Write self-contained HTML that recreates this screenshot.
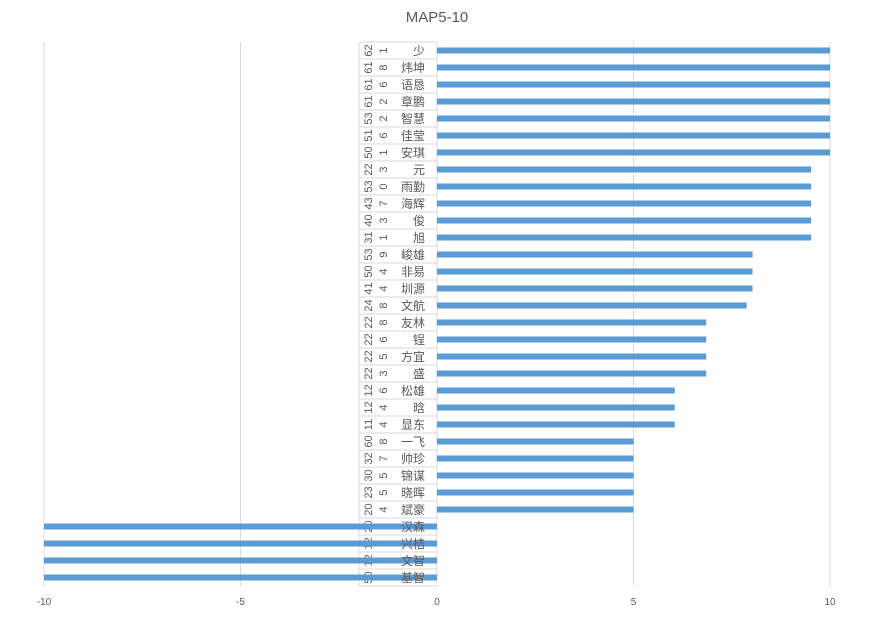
<!DOCTYPE html>
<html><head><meta charset="utf-8"><style>
body{margin:0;background:#fff;font-family:"Liberation Sans","Noto Sans CJK SC",sans-serif;}
</style></head><body>
<svg id="c" width="883" height="617" xmlns="http://www.w3.org/2000/svg"></svg>
<script>
const names=["少","炜坤","语恳","章鹏","智慧","佳莹","安琪","元","雨勤","海辉","俊","旭","峻雄","非易","圳源","文航","友林","锃","方宜","盛","松雄","晗","显东","一飞","帅珍","锦谋","晓晖","斌豪","汉森","兴桔","文智","基智"];
const codeA=["62","61","61","61","53","51","50","22","53","43","40","31","53","50","41","24","22","22","22","22","12","12","11","60","32","30","23","20","20","12","12","50"];
const codeB=["1","8","6","2","2","6","1","3","0","7","3","1","9","4","4","8","8","6","5","3","6","4","4","8","7","5","5","4","5","3","5","5"];
const values=[10,10,10,10,10,10,10,9.52,9.52,9.52,9.52,9.52,8.03,8.03,8.03,7.88,6.85,6.85,6.85,6.85,6.05,6.05,6.05,5,5,5,5,5,-10,-10,-10,-10];
const ticks=[-10,-5,0,5,10];
const NS="http://www.w3.org/2000/svg",svg=document.getElementById('c');
const xs=v=>437+v*39.3, plotTop=42, rh=17;
function mk(t,a,p){const e=document.createElementNS(NS,t);for(const k in a)e.setAttribute(k,a[k]);(p||svg).appendChild(e);return e;}
const title=mk('text',{x:437,y:22,'text-anchor':'middle','font-size':15,fill:'#595959'});title.textContent='MAP5-10';


ticks.forEach(t=>{
 const g=mk('line',{x1:xs(t),x2:xs(t),y1:plotTop,y2:plotTop+rh*names.length,stroke:'#d9d9d9'});
 
 
 const l=mk('text',{x:xs(t),y:605,'text-anchor':'middle','font-size':10,fill:'#595959'});l.textContent=t;
 
 
});
mk('line',{x1:359,x2:359,y1:plotTop,y2:plotTop+rh*names.length,stroke:'#d9d9d9'});
names.forEach((n,i)=>{
 const y0=plotTop+i*rh, cy=y0+rh/2;
 mk('line',{x1:359,x2:437,y1:y0,y2:y0,stroke:'#d9d9d9'});
 const a=mk('text',{x:0,y:0,transform:`translate(372,${cy}) rotate(-90)`,'text-anchor':'middle','font-size':11,fill:'#595959'});a.textContent=codeA[i];
 
 
 const b=mk('text',{x:0,y:0,transform:`translate(387,${cy}) rotate(-90)`,'text-anchor':'middle','font-size':11,fill:'#595959'});b.textContent=codeB[i];
 
 
 const v=values[i];
 const r=mk('rect',{x:Math.min(xs(0),xs(v)),y:cy-3,width:Math.abs(xs(v)-xs(0)),height:6,fill:'#5b9bd5'});
 
 
 const t=mk('text',{x:425,y:cy+4.5,'text-anchor':'end','font-size':12,fill:'#595959'});t.textContent=n;
 
 
});
mk('line',{x1:359,x2:437,y1:plotTop+rh*names.length,y2:plotTop+rh*names.length,stroke:'#d9d9d9'});
</script>
</body></html>
